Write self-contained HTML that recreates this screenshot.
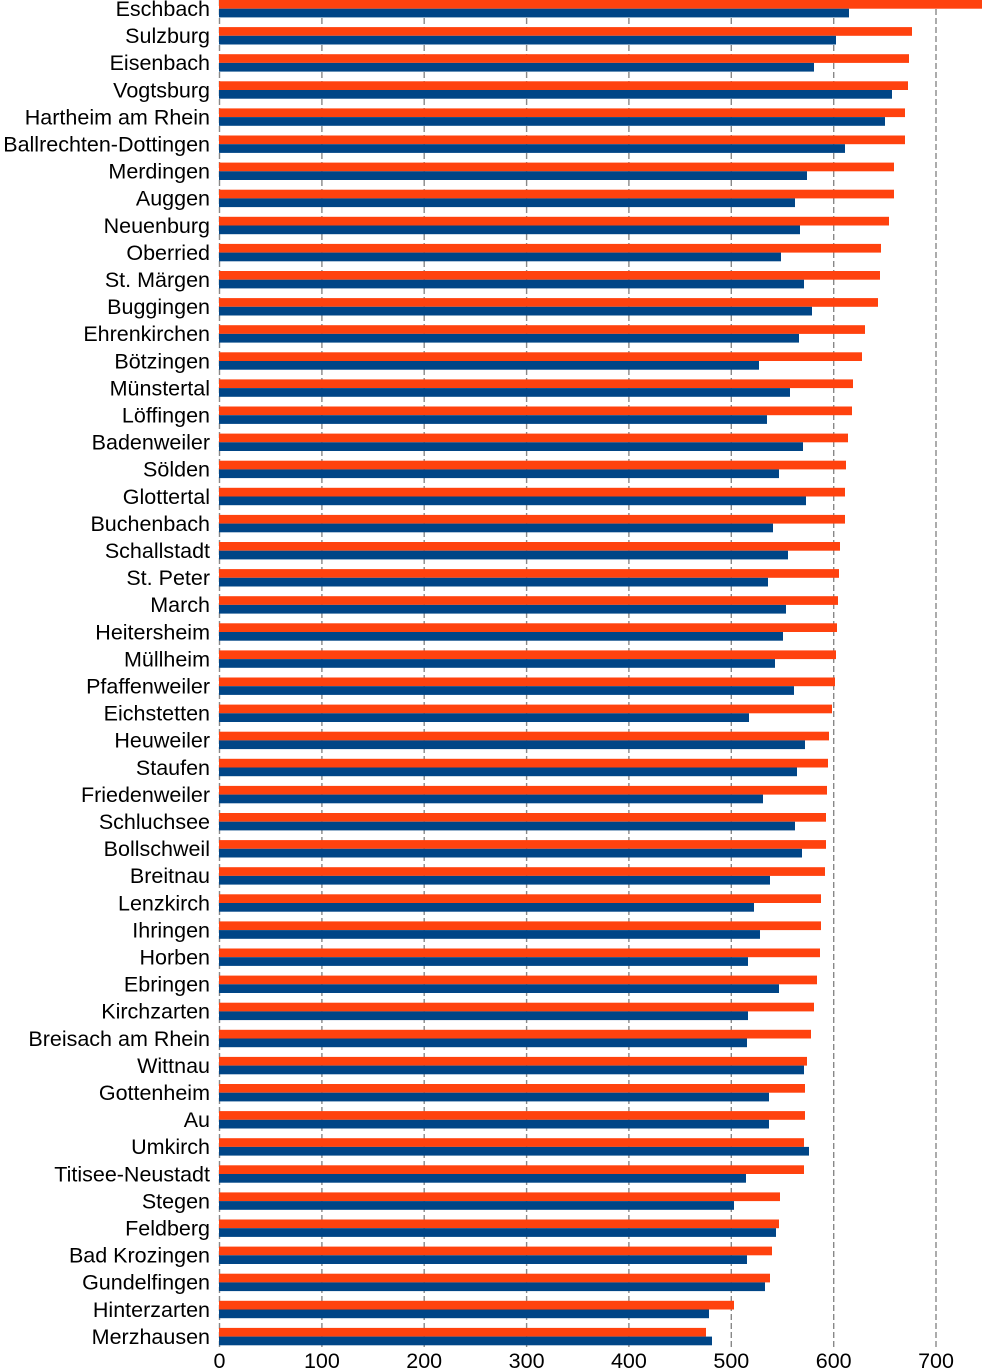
<!DOCTYPE html>
<html><head><meta charset="utf-8"><style>html,body{margin:0;padding:0;background:#fff;}svg{display:block;}</style></head><body>
<svg width="982" height="1369" xmlns="http://www.w3.org/2000/svg" font-family="Liberation Sans, Arial, sans-serif">
<g stroke="#888" stroke-width="1.4" stroke-dasharray="6,3">
<line x1="219.5" y1="0" x2="219.5" y2="1348"/><line x1="321.9" y1="0" x2="321.9" y2="1348"/><line x1="424.2" y1="0" x2="424.2" y2="1348"/><line x1="526.6" y1="0" x2="526.6" y2="1348"/><line x1="628.9" y1="0" x2="628.9" y2="1348"/><line x1="731.3" y1="0" x2="731.3" y2="1348"/><line x1="833.7" y1="0" x2="833.7" y2="1348"/><line x1="936" y1="0" x2="936" y2="1348"/>
</g>
<g font-size="21.5" fill="#000" text-anchor="middle">
<text x="219.5" y="1368">0</text><text x="321.9" y="1368">100</text><text x="424.2" y="1368">200</text><text x="526.6" y="1368">300</text><text x="628.9" y="1368">400</text><text x="731.3" y="1368">500</text><text x="833.7" y="1368">600</text><text x="936" y="1368">700</text>
</g>
<g id="bars">
<rect x="219" y="0" width="763" height="8.7" fill="#ff420e"/><rect x="219" y="8.7" width="630" height="8.7" fill="#004586"/>
<rect x="219" y="27.1" width="693" height="8.7" fill="#ff420e"/><rect x="219" y="35.8" width="617" height="8.7" fill="#004586"/>
<rect x="219" y="54.2" width="690" height="8.7" fill="#ff420e"/><rect x="219" y="62.9" width="595" height="8.7" fill="#004586"/>
<rect x="219" y="81.3" width="689" height="8.7" fill="#ff420e"/><rect x="219" y="90" width="673" height="8.7" fill="#004586"/>
<rect x="219" y="108.4" width="686" height="8.7" fill="#ff420e"/><rect x="219" y="117.1" width="666" height="8.7" fill="#004586"/>
<rect x="219" y="135.5" width="686" height="8.7" fill="#ff420e"/><rect x="219" y="144.2" width="626" height="8.7" fill="#004586"/>
<rect x="219" y="162.6" width="675" height="8.7" fill="#ff420e"/><rect x="219" y="171.3" width="588" height="8.7" fill="#004586"/>
<rect x="219" y="189.7" width="675" height="8.7" fill="#ff420e"/><rect x="219" y="198.4" width="576" height="8.7" fill="#004586"/>
<rect x="219" y="216.8" width="670" height="8.7" fill="#ff420e"/><rect x="219" y="225.5" width="581" height="8.7" fill="#004586"/>
<rect x="219" y="243.9" width="662" height="8.7" fill="#ff420e"/><rect x="219" y="252.6" width="562" height="8.7" fill="#004586"/>
<rect x="219" y="271" width="661" height="8.7" fill="#ff420e"/><rect x="219" y="279.7" width="585" height="8.7" fill="#004586"/>
<rect x="219" y="298.1" width="659" height="8.7" fill="#ff420e"/><rect x="219" y="306.8" width="593" height="8.7" fill="#004586"/>
<rect x="219" y="325.2" width="646" height="8.7" fill="#ff420e"/><rect x="219" y="333.9" width="580" height="8.7" fill="#004586"/>
<rect x="219" y="352.3" width="643" height="8.7" fill="#ff420e"/><rect x="219" y="361" width="540" height="8.7" fill="#004586"/>
<rect x="219" y="379.4" width="634" height="8.7" fill="#ff420e"/><rect x="219" y="388.1" width="571" height="8.7" fill="#004586"/>
<rect x="219" y="406.5" width="633" height="8.7" fill="#ff420e"/><rect x="219" y="415.2" width="548" height="8.7" fill="#004586"/>
<rect x="219" y="433.6" width="629" height="8.7" fill="#ff420e"/><rect x="219" y="442.3" width="584" height="8.7" fill="#004586"/>
<rect x="219" y="460.7" width="627" height="8.7" fill="#ff420e"/><rect x="219" y="469.4" width="560" height="8.7" fill="#004586"/>
<rect x="219" y="487.8" width="626" height="8.7" fill="#ff420e"/><rect x="219" y="496.5" width="587" height="8.7" fill="#004586"/>
<rect x="219" y="514.9" width="626" height="8.7" fill="#ff420e"/><rect x="219" y="523.6" width="554" height="8.7" fill="#004586"/>
<rect x="219" y="542" width="621" height="8.7" fill="#ff420e"/><rect x="219" y="550.7" width="569" height="8.7" fill="#004586"/>
<rect x="219" y="569.1" width="620" height="8.7" fill="#ff420e"/><rect x="219" y="577.8" width="549" height="8.7" fill="#004586"/>
<rect x="219" y="596.2" width="619" height="8.7" fill="#ff420e"/><rect x="219" y="604.9" width="567" height="8.7" fill="#004586"/>
<rect x="219" y="623.3" width="618" height="8.7" fill="#ff420e"/><rect x="219" y="632" width="564" height="8.7" fill="#004586"/>
<rect x="219" y="650.4" width="617" height="8.7" fill="#ff420e"/><rect x="219" y="659.1" width="556" height="8.7" fill="#004586"/>
<rect x="219" y="677.5" width="616" height="8.7" fill="#ff420e"/><rect x="219" y="686.2" width="575" height="8.7" fill="#004586"/>
<rect x="219" y="704.6" width="613" height="8.7" fill="#ff420e"/><rect x="219" y="713.3" width="530" height="8.7" fill="#004586"/>
<rect x="219" y="731.7" width="610" height="8.7" fill="#ff420e"/><rect x="219" y="740.4" width="586" height="8.7" fill="#004586"/>
<rect x="219" y="758.8" width="609" height="8.7" fill="#ff420e"/><rect x="219" y="767.5" width="578" height="8.7" fill="#004586"/>
<rect x="219" y="785.9" width="608" height="8.7" fill="#ff420e"/><rect x="219" y="794.6" width="544" height="8.7" fill="#004586"/>
<rect x="219" y="813" width="607" height="8.7" fill="#ff420e"/><rect x="219" y="821.7" width="576" height="8.7" fill="#004586"/>
<rect x="219" y="840.1" width="607" height="8.7" fill="#ff420e"/><rect x="219" y="848.8" width="583" height="8.7" fill="#004586"/>
<rect x="219" y="867.2" width="606" height="8.7" fill="#ff420e"/><rect x="219" y="875.9" width="551" height="8.7" fill="#004586"/>
<rect x="219" y="894.3" width="602" height="8.7" fill="#ff420e"/><rect x="219" y="903" width="535" height="8.7" fill="#004586"/>
<rect x="219" y="921.4" width="602" height="8.7" fill="#ff420e"/><rect x="219" y="930.1" width="541" height="8.7" fill="#004586"/>
<rect x="219" y="948.5" width="601" height="8.7" fill="#ff420e"/><rect x="219" y="957.2" width="529" height="8.7" fill="#004586"/>
<rect x="219" y="975.6" width="598" height="8.7" fill="#ff420e"/><rect x="219" y="984.3" width="560" height="8.7" fill="#004586"/>
<rect x="219" y="1002.7" width="595" height="8.7" fill="#ff420e"/><rect x="219" y="1011.4" width="529" height="8.7" fill="#004586"/>
<rect x="219" y="1029.8" width="592" height="8.7" fill="#ff420e"/><rect x="219" y="1038.5" width="528" height="8.7" fill="#004586"/>
<rect x="219" y="1056.9" width="588" height="8.7" fill="#ff420e"/><rect x="219" y="1065.6" width="585" height="8.7" fill="#004586"/>
<rect x="219" y="1084" width="586" height="8.7" fill="#ff420e"/><rect x="219" y="1092.7" width="550" height="8.7" fill="#004586"/>
<rect x="219" y="1111.1" width="586" height="8.7" fill="#ff420e"/><rect x="219" y="1119.8" width="550" height="8.7" fill="#004586"/>
<rect x="219" y="1138.2" width="585" height="8.7" fill="#ff420e"/><rect x="219" y="1146.9" width="590" height="8.7" fill="#004586"/>
<rect x="219" y="1165.3" width="585" height="8.7" fill="#ff420e"/><rect x="219" y="1174" width="527" height="8.7" fill="#004586"/>
<rect x="219" y="1192.4" width="561" height="8.7" fill="#ff420e"/><rect x="219" y="1201.1" width="515" height="8.7" fill="#004586"/>
<rect x="219" y="1219.5" width="560" height="8.7" fill="#ff420e"/><rect x="219" y="1228.2" width="557" height="8.7" fill="#004586"/>
<rect x="219" y="1246.6" width="553" height="8.7" fill="#ff420e"/><rect x="219" y="1255.3" width="528" height="8.7" fill="#004586"/>
<rect x="219" y="1273.7" width="551" height="8.7" fill="#ff420e"/><rect x="219" y="1282.4" width="546" height="8.7" fill="#004586"/>
<rect x="219" y="1300.8" width="515" height="8.7" fill="#ff420e"/><rect x="219" y="1309.5" width="490" height="8.7" fill="#004586"/>
<rect x="219" y="1327.9" width="487" height="8.7" fill="#ff420e"/><rect x="219" y="1336.6" width="493" height="8.7" fill="#004586"/>
</g>
<g font-size="21.5" fill="#000" text-anchor="end">
<text x="210" y="16">Eschbach</text>
<text x="210" y="43.1">Sulzburg</text>
<text x="210" y="70.2">Eisenbach</text>
<text x="210" y="97.3">Vogtsburg</text>
<text x="210" y="124.4">Hartheim am Rhein</text>
<text x="210" y="151.5">Ballrechten-Dottingen</text>
<text x="210" y="178.6">Merdingen</text>
<text x="210" y="205.7">Auggen</text>
<text x="210" y="232.8">Neuenburg</text>
<text x="210" y="259.9">Oberried</text>
<text x="210" y="287">St. Märgen</text>
<text x="210" y="314.1">Buggingen</text>
<text x="210" y="341.2">Ehrenkirchen</text>
<text x="210" y="368.3">Bötzingen</text>
<text x="210" y="395.4">Münstertal</text>
<text x="210" y="422.5">Löffingen</text>
<text x="210" y="449.6">Badenweiler</text>
<text x="210" y="476.7">Sölden</text>
<text x="210" y="503.8">Glottertal</text>
<text x="210" y="530.9">Buchenbach</text>
<text x="210" y="558">Schallstadt</text>
<text x="210" y="585.1">St. Peter</text>
<text x="210" y="612.2">March</text>
<text x="210" y="639.3">Heitersheim</text>
<text x="210" y="666.4">Müllheim</text>
<text x="210" y="693.5">Pfaffenweiler</text>
<text x="210" y="720.6">Eichstetten</text>
<text x="210" y="747.7">Heuweiler</text>
<text x="210" y="774.8">Staufen</text>
<text x="210" y="801.9">Friedenweiler</text>
<text x="210" y="829">Schluchsee</text>
<text x="210" y="856.1">Bollschweil</text>
<text x="210" y="883.2">Breitnau</text>
<text x="210" y="910.3">Lenzkirch</text>
<text x="210" y="937.4">Ihringen</text>
<text x="210" y="964.5">Horben</text>
<text x="210" y="991.6">Ebringen</text>
<text x="210" y="1018.7">Kirchzarten</text>
<text x="210" y="1045.8">Breisach am Rhein</text>
<text x="210" y="1072.9">Wittnau</text>
<text x="210" y="1100">Gottenheim</text>
<text x="210" y="1127.1">Au</text>
<text x="210" y="1154.2">Umkirch</text>
<text x="210" y="1181.3">Titisee-Neustadt</text>
<text x="210" y="1208.4">Stegen</text>
<text x="210" y="1235.5">Feldberg</text>
<text x="210" y="1262.6">Bad Krozingen</text>
<text x="210" y="1289.7">Gundelfingen</text>
<text x="210" y="1316.8">Hinterzarten</text>
<text x="210" y="1343.9">Merzhausen</text>
</g>
</svg>
</body></html>
